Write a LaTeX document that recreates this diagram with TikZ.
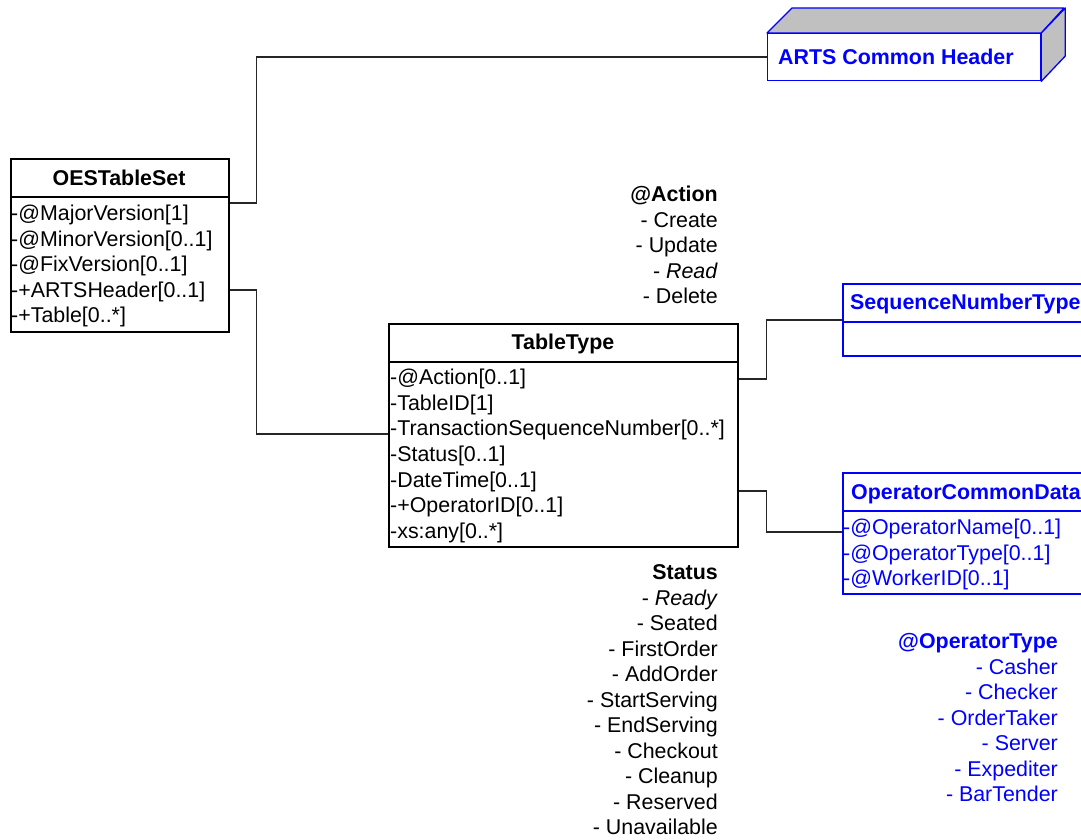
\documentclass[tikz,border=0pt]{standalone}
\usepackage{fontspec}
\setmainfont{Liberation Sans}
\definecolor{umlblue}{RGB}{0,0,255}
\definecolor{facegray}{RGB}{192,192,192}
\newcommand\dgfont{\fontsize{21.4}{25.5}\selectfont}
\begin{document}
\begin{tikzpicture}[x=1pt,y=-1pt,
  box/.style={draw=black,line width=1.6pt,rectangle,anchor=north west,inner sep=0pt,fill=white},
  bluebox/.style={box,draw=umlblue},
  sep/.style={line width=1.6pt},
  conn/.style={draw=black!85,line width=1.3pt},
  ttl/.style={font=\dgfont\bfseries,inner sep=0pt},
  row/.style={font=\dgfont,inner sep=0pt,anchor=base west},
  lst/.style={font=\dgfont,inner sep=0pt,anchor=base east},
]
\useasboundingbox (0,0) rectangle (1081,840);
\clip (0,0) rectangle (1081,840);

% ---------- ARTS Common Header (3D box)
\node[bluebox,line width=1.3pt,minimum width=273pt,minimum height=47pt] (arts) at (767,33) {};
\fill[facegray,draw=umlblue,line width=1.3pt,line join=round]
  (arts.north west) -- ++(25,-25) -- ++(272,0) -- (arts.north east) -- cycle;
\fill[facegray,draw=umlblue,line width=1.3pt,line join=round]
  (arts.north east) -- ++(24,-25) -- ++(0,48) -- (arts.south east) -- cycle;
\node[ttl,text=umlblue,anchor=base west] (artsT) at (778,64.5) {ARTS Common Header};

% ---------- OESTableSet
\node[box,minimum width=218pt,minimum height=173pt] (oes) at (10,158) {};
\draw[sep] (10,197) -- (228,197);
\node[ttl,anchor=base] (oesT) at (119,185.5) {OESTableSet};
\foreach \t [count=\i from 0] in {-@MajorVersion[1],-@MinorVersion[0..1],-@FixVersion[0..1],-+ARTSHeader[0..1],-+Table[0..*]}
  \node[row] (oesr\i) at (11,220.5+25.6*\i) {\t};

% ---------- TableType
\node[box,minimum width=349pt,minimum height=223pt] (tt) at (388,323) {};
\draw[sep] (388,362) -- (737,362);
\node[ttl,anchor=base] (ttT) at (563,349.5) {TableType};
\foreach \t [count=\i from 0] in {-@Action[0..1],-TableID[1],-TransactionSequenceNumber[0..*],-Status[0..1],-DateTime[0..1],-+OperatorID[0..1],-xs:any[0..*]}
  \node[row] (ttr\i) at (390,384.5+25.67*\i) {\t};

% ---------- SequenceNumberType
\node[bluebox,minimum width=270pt,minimum height=72pt] (seq) at (842,283) {};
\draw[sep,umlblue] (842,322) -- (1112,322);
\node[ttl,text=umlblue,anchor=base west] (seqT) at (850,309.5) {SequenceNumberType};

% ---------- OperatorCommonData
\node[bluebox,minimum width=270pt,minimum height=121pt] (ocd) at (842,472) {};
\draw[sep,umlblue] (842,511) -- (1112,511);
\node[ttl,text=umlblue,anchor=base west] (ocdT) at (851,499.5) {OperatorCommonData};
\foreach \t [count=\i from 0] in {-@OperatorName[0..1],-@OperatorType[0..1],-@WorkerID[0..1]}
  \node[row,text=umlblue] (ocdr\i) at (843,534.5+25.5*\i) {\t};

% ---------- Enumerations
\node[lst,font=\dgfont\bfseries] (actT) at (718,201.5) {@Action};
\foreach \t [count=\i] in {- Create,- Update,- \textit{Read},- Delete}
  \node[lst] (act\i) at (718,201.5+25.5*\i) {\t};

\node[lst,font=\dgfont\bfseries] (stT) at (718,579.5) {Status};
\foreach \t [count=\i] in {- \textit{Ready},- Seated,- FirstOrder,- AddOrder,- StartServing,- EndServing,- Checkout,- Cleanup,- Reserved,- Unavailable}
  \node[lst] (st\i) at (718,579.5+25.5*\i) {\t};

\node[lst,font=\dgfont\bfseries,text=umlblue] (opT) at (1058,648.5) {@OperatorType};
\foreach \t [count=\i] in {- Casher,- Checker,- OrderTaker,- Server,- Expediter,- BarTender}
  \node[lst,text=umlblue] (op\i) at (1058,648.5+25.5*\i) {\t};

% ---------- Connectors
\draw[conn] ([yshift=-45pt]oes.north east) -- ++(27,0) |- (arts.west);
\draw[conn] ([yshift=-132pt]oes.north east) -- ++(27,0) |- ([yshift=-111pt]tt.north west);
\draw[conn] ([yshift=-56pt]tt.north east) -- ++(28,0) |- ([yshift=-37pt]seq.north west);
\draw[conn] ([yshift=-168pt]tt.north east) -- ++(28,0) |- ([yshift=-60pt]ocd.north west);
\end{tikzpicture}
\end{document}
